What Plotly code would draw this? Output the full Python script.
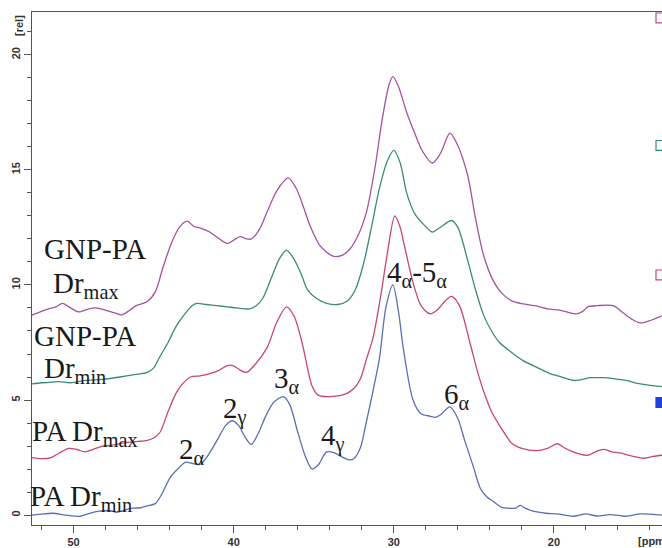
import plotly.graph_objects as go

# ---------------- data ----------------
ppm_pa_min = [52.6, 51.9, 51.3, 50.5, 49.6, 49.0, 48.4, 47.75, 47.3, 46.8, 46.3, 45.8, 45.4, 44.9,
              44.5, 44.0, 43.5, 43.0, 42.6, 42.1, 41.6, 41.0, 40.5, 40.1, 39.7, 39.3, 38.9, 38.5,
              38.0, 37.5, 36.9, 36.5, 36.0, 35.5, 35.1, 34.7, 34.2, 33.7, 33.3, 32.8, 32.5, 32.1,
              31.7, 31.3, 30.9, 30.5, 30.06, 29.7, 29.4, 28.8, 28.3, 27.75, 27.4, 27.1, 26.5,
              26.0, 25.6, 25.06, 24.6, 24.2, 23.8, 23.3, 22.9, 22.4, 22.1, 21.8, 21.3, 20.5, 19.8,
              18.8, 18.0, 17.3, 16.5, 15.5, 14.6, 13.25]
val_pa_min = [0.0, 0.05, 0.08, 0.0, -0.05, 0.08, 0.17, 0.2, 0.12, 0.22, 0.3, 0.32, 0.4, 0.5,
              0.9, 1.6, 2.0, 2.3, 2.25, 2.2, 2.6, 3.3, 3.9, 4.1, 3.9, 3.4, 3.07, 3.5,
              4.3, 4.9, 5.15, 4.8, 3.6, 2.5, 2.0, 2.2, 2.75, 2.7, 2.55, 2.4, 2.45, 2.9,
              4.1, 5.4, 6.8, 9.0, 10.0, 8.8, 7.2, 5.0, 4.4, 4.3, 4.25, 4.35, 4.7,
              4.2, 3.3, 2.16, 1.17, 0.8, 0.6, 0.35, 0.3, 0.3, 0.42, 0.3, 0.17, 0.08, 0.05,
              -0.05, 0.05, -0.04, 0.02, -0.05, 0.05, 0.0]

ppm_pa_max = [52.6, 52.0, 51.4, 50.9, 50.3, 49.8, 49.3, 48.8, 48.2, 47.5, 46.8, 46.0, 45.4, 45.0,
              44.6, 44.1, 43.6, 43.2, 42.7, 42.1, 41.5, 40.9, 40.4, 40.06, 39.6, 39.2, 38.6, 37.9,
              37.3, 36.7, 36.2, 35.7, 35.1, 34.7, 34.0, 33.3, 32.9, 32.5, 32.1, 31.7, 31.3, 30.8,
              30.4, 29.94, 29.6, 29.4, 28.8, 28.3, 27.75, 27.3, 26.8, 26.4, 25.9, 25.25, 24.8,
              24.4, 23.9, 23.4, 22.6, 22.0, 21.1, 20.4, 19.8, 19.4, 19.0, 17.9, 17.4, 16.9, 16.4,
              15.9, 14.4, 13.8, 13.25]
val_pa_max = [2.5, 2.45, 2.5, 2.7, 2.9, 2.85, 2.75, 2.85, 3.0, 3.05, 3.15, 3.2, 3.25, 3.35,
              3.6, 4.5, 5.3, 5.7, 6.0, 6.05, 6.15, 6.3, 6.5, 6.5, 6.3, 6.2, 6.6, 7.3,
              8.4, 9.05, 8.6, 7.4, 5.6, 5.2, 5.15, 5.2, 5.3, 5.5, 5.9, 6.8, 7.7, 9.6,
              11.4, 13.0, 12.5, 11.9, 10.1, 9.1, 8.75, 8.9, 9.3, 9.5, 9.1, 7.5, 6.3,
              5.4, 4.5, 3.9, 3.1, 2.9, 2.8, 2.9, 3.1, 2.95, 2.8, 2.6, 2.75, 2.86, 2.75,
              2.7, 2.47, 2.55, 2.6]

ppm_gnp_min = [52.6, 52.0, 51.3, 50.9, 50.2, 49.2, 48.2, 47.1, 46.2, 45.4, 45.0, 44.6, 44.1, 43.6,
               43.1, 42.6, 42.3, 41.7, 41.06, 40.4, 39.8, 39.0, 38.6, 38.2, 37.6, 37.1, 36.7,
               36.3, 35.8, 35.4, 34.8, 34.2, 33.5, 32.9, 32.4, 31.9, 31.4, 30.9, 30.4, 30.0,
               29.6, 29.2, 28.7, 28.1, 27.6, 27.1, 26.4, 26.0, 25.4, 24.9, 24.4, 23.9, 23.4,
               22.7, 21.9, 21.0, 20.25, 19.5, 18.8, 18.2, 17.75, 17.0, 16.3, 15.5, 14.6, 13.25]
val_gnp_min = [5.7, 5.75, 5.78, 5.8, 5.75, 5.85, 5.9, 6.0, 6.1, 6.2, 6.4, 6.9, 7.5, 8.2,
               8.7, 9.1, 9.2, 9.15, 9.1, 9.05, 9.0, 8.96, 9.1, 9.4, 10.4, 11.2, 11.5,
               11.2, 10.5, 9.8, 9.4, 9.2, 9.15, 9.3, 9.8, 10.9, 12.5, 14.2, 15.4, 15.85,
               15.3, 14.0, 13.1, 12.6, 12.3, 12.5, 12.8, 12.5, 11.1, 9.8, 8.7, 8.0, 7.5,
               7.1, 6.7, 6.4, 6.15, 6.0, 5.85, 5.9, 5.97, 5.97, 5.93, 5.85, 5.7, 5.58]

ppm_gnp_max = [52.75, 52.2, 51.6, 51.1, 50.7, 50.3, 49.8, 49.6, 49.1, 48.6, 48.0, 47.5, 47.0, 46.5,
               46.1, 45.4, 44.9, 44.4, 43.9, 43.4, 42.9, 42.5, 42.0, 41.5, 41.0, 40.4, 40.0,
               39.6, 39.2, 38.9, 38.4, 37.9, 37.3, 36.6, 36.1, 35.6, 35.25, 34.6, 33.8, 33.2,
               32.75, 32.2, 31.7, 31.2, 30.7, 30.3, 30.06, 29.7, 29.2, 28.7, 28.2, 27.6, 27.1,
               26.5, 26.1, 25.4, 24.9, 24.4, 23.8, 23.2, 22.6, 22.1, 21.2, 20.4, 19.6, 18.6,
               18.2, 17.9, 17.3, 16.3, 15.7, 15.1, 14.6, 14.0, 13.25]
val_gnp_max = [8.65, 8.8, 8.95, 9.05, 9.2, 9.05, 8.85, 8.83, 8.95, 9.0, 8.9, 8.8, 8.7, 8.9,
               9.1, 9.28, 9.7, 10.8, 11.8, 12.5, 12.77, 12.55, 12.45, 12.3, 12.05, 11.8, 11.95,
               12.1, 12.0, 12.0, 12.4, 13.2, 14.1, 14.65, 14.2, 13.3, 12.6, 11.7, 11.25, 11.3,
               11.55, 12.2, 13.2, 15.0, 17.3, 18.7, 19.05, 18.6, 17.5, 16.6, 15.8, 15.3, 15.7,
               16.6, 16.2, 14.8, 12.9, 11.3, 10.2, 9.6, 9.3, 9.2, 9.1, 8.96, 8.9, 8.74,
               8.85, 9.05, 9.1, 9.1, 8.8, 8.5, 8.35, 8.45, 8.66]

x_tick_vals = [50, 40, 30, 20]
y_tick_vals = [0, 5, 10, 15, 20]

# ---------------- styling ----------------
C_PURPLE = "#a5529f"
C_TEAL = "#3a8a7c"
C_RED = "#c9476f"
C_BLUE = "#5a6fb3"

# plot area in pixels
L, R, T, B = 32, 662, 12, 527
X0, X1 = 52.6, 13.25
Y0, Y1 = -0.43, 21.86


def px_(px):
    return (px - L) / (R - L)


def py_(py):
    return (B - py) / (B - T)


fig = go.Figure()
for xs, ys, c in [(ppm_pa_min, val_pa_min, C_BLUE), (ppm_pa_max, val_pa_max, C_RED),
                  (ppm_gnp_min, val_gnp_min, C_TEAL), (ppm_gnp_max, val_gnp_max, C_PURPLE)]:
    fig.add_trace(go.Scatter(x=xs, y=ys, mode="lines",
                             line=dict(color=c, width=1.3, shape="spline", smoothing=0.8),
                             showlegend=False, hoverinfo="skip"))

SERIF = "Liberation Serif, Times New Roman, serif"
FS = 29
ann = []


def label(text, left_px, cy_px, size=FS):
    ann.append(dict(text=text, x=px_(left_px), y=py_(cy_px), xref="paper", yref="paper",
                    xanchor="left", yanchor="middle", showarrow=False,
                    font=dict(family=SERIF, size=size, color="#1a1a1a")))


label("GNP-PA", 42, 250)
label("Dr<sub>max</sub>", 51, 286)
label("GNP-PA", 32, 337)
label("Dr<sub>min</sub>", 42, 371)
label("PA Dr<sub>max</sub>", 30, 435)
label("PA Dr<sub>min</sub>", 28, 500)
label("2<sub>α</sub>", 177, 453)
label("2<sub>γ</sub>", 221, 412)
label("3<sub>α</sub>", 272, 381)
label("4<sub>γ</sub>", 319, 439)
label("4<sub>α</sub>-5<sub>α</sub>", 385, 275)
label("6<sub>α</sub>", 442, 397)

AXF = dict(family="Liberation Sans, Arial, sans-serif", size=11, color="#333333", weight="bold")
ann.append(dict(text="[ppm]", x=px_(636), y=py_(543), xref="paper", yref="paper",
                xanchor="left", yanchor="middle", showarrow=False, font=AXF))
ann.append(dict(text="[rel]", x=px_(19), y=py_(26), xref="paper", yref="paper",
                xanchor="center", yanchor="middle", showarrow=False, textangle=-90, font=AXF))

shapes = []
for cy, c, filled in [(18, C_PURPLE, False), (146, C_TEAL, False), (276, C_RED, False), (404, "#1f3fe0", True)]:
    shapes.append(dict(type="rect", xref="paper", yref="paper",
                       x0=px_(656), x1=px_(666), y0=py_(cy + 5), y1=py_(cy - 5),
                       line=dict(color=c, width=1.2),
                       fillcolor=c if filled else "rgba(0,0,0,0)"))

fig.update_layout(
    width=662, height=548,
    margin=dict(l=L, r=662 - R, t=T, b=548 - B),
    paper_bgcolor="white", plot_bgcolor="white",
    annotations=ann, shapes=shapes,
    xaxis=dict(range=[X0, X1], showgrid=False, zeroline=False,
               showline=True, linecolor="#555555", linewidth=1, mirror=True,
               ticks="outside", ticklen=7, tickcolor="#555555", tickwidth=1,
               tickvals=x_tick_vals, ticktext=[str(v) for v in x_tick_vals],
               minor=dict(dtick=2, tick0=0, ticks="outside", ticklen=4, tickcolor="#555555"),
               tickfont=AXF),
    yaxis=dict(range=[Y0, Y1], showgrid=False, zeroline=False,
               showline=True, linecolor="#555555", linewidth=1,
               ticks="outside", ticklen=7, tickcolor="#555555", tickwidth=1,
               tickvals=y_tick_vals, ticktext=[str(v) for v in y_tick_vals],
               minor=dict(dtick=1, tick0=0, ticks="outside", ticklen=4, tickcolor="#555555"),
               tickangle=-90, tickfont=AXF),
)

fig.write_html("out.html")
